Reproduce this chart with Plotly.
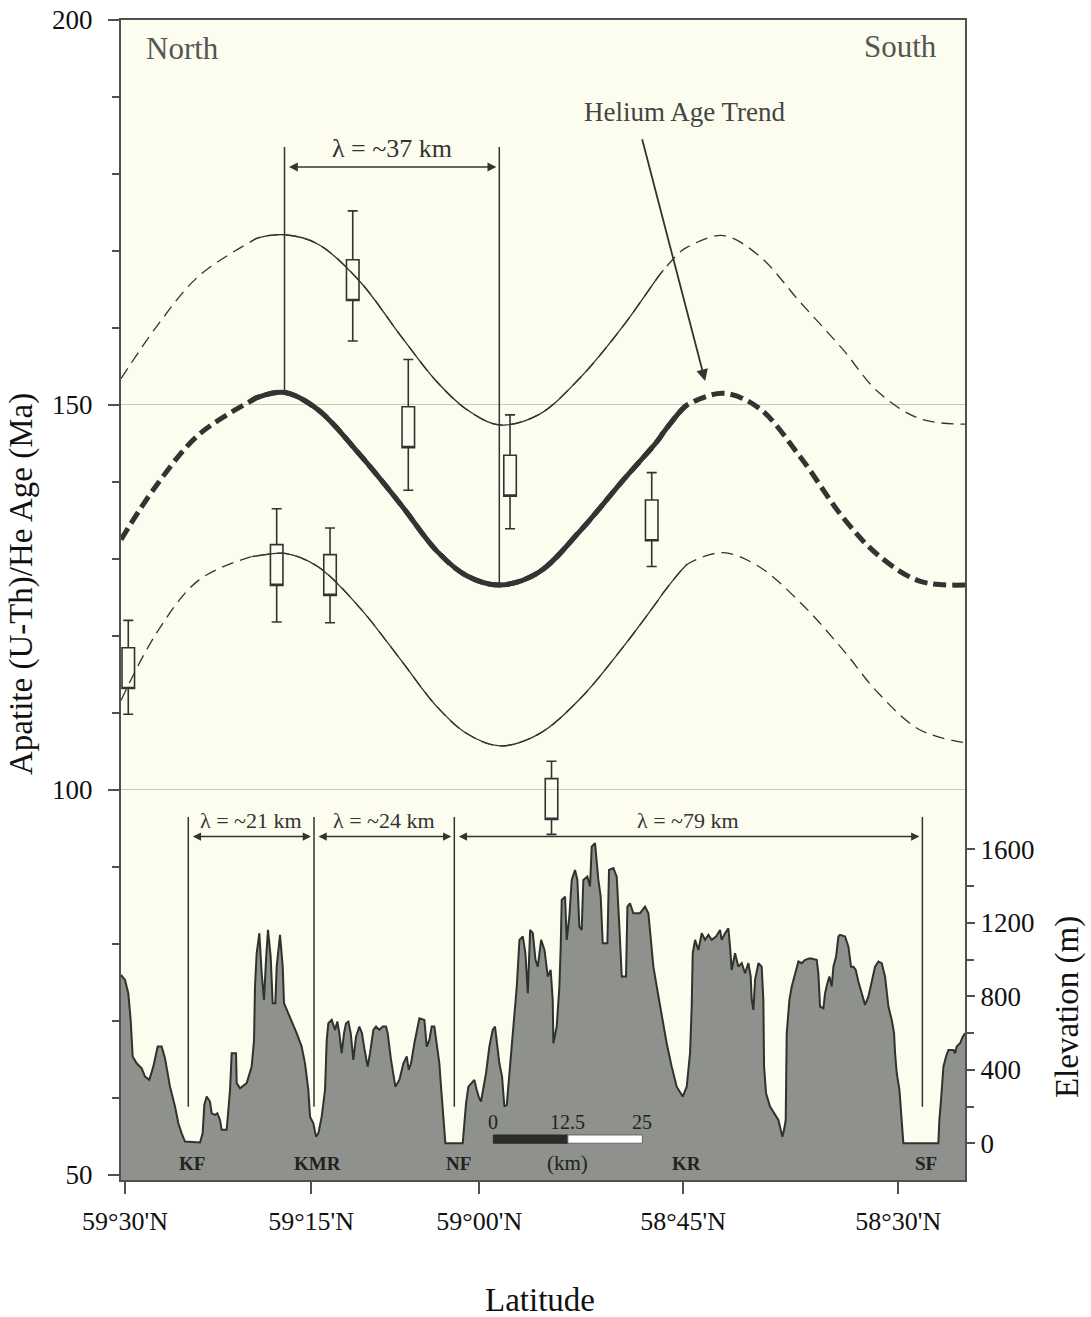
import plotly.graph_objects as go

# ---------------------------------------------------------------
# Topographic profile: distance along profile (km) and elevation (m)
# ---------------------------------------------------------------
PROFILE_KM = [
    0.0, 0.67, 1.23, 1.62, 1.96, 2.63, 3.47, 4.03, 4.75, 5.42, 6.15, 6.82, 7.38, 8.22, 9.06,
    9.62, 10.18, 10.74, 13.26, 13.70, 13.98, 14.37, 14.93, 15.21, 15.77, 16.16, 16.61, 16.89,
    17.73, 18.01, 18.29, 18.57, 19.30, 19.41, 19.97, 21.09, 21.92, 22.32, 22.48, 22.76, 23.21,
    23.60, 23.99, 24.33, 24.66, 25.11, 25.45, 25.89, 26.12, 26.68, 27.13, 27.35, 28.36, 29.47,
    30.31, 30.87, 31.43, 31.71, 32.27, 32.72, 33.11, 33.67, 34.23, 34.51, 34.79, 35.35, 35.91,
    36.30, 36.63, 37.02, 37.42, 37.75, 38.15, 38.54, 38.98, 39.43, 39.99, 40.43, 40.82, 41.38,
    41.78, 42.34, 42.79, 43.34, 43.90, 44.46, 44.74, 45.30, 46.03, 46.71, 47.38, 47.94, 48.27,
    48.66, 49.22, 49.78, 50.06, 50.90, 51.29, 51.74, 52.13, 52.57, 52.97, 53.41, 53.69, 54.08,
    54.42, 57.33, 57.61, 57.89, 58.28, 58.73, 59.28, 59.68, 60.01, 60.40, 60.79, 61.24, 61.80,
    62.36, 62.75, 63.09, 63.48, 63.93, 64.32, 64.72, 65.05, 65.44, 66.00, 66.40, 66.85, 67.41,
    67.85, 68.25, 68.64, 69.09, 69.54, 69.93, 70.49, 71.05, 71.61, 72.09, 72.43, 72.54, 73.10,
    73.55, 73.77, 73.94, 74.50, 74.78, 75.22, 75.62, 76.17, 76.57, 76.90, 77.29, 77.57, 78.24,
    78.69, 78.97, 79.53, 80.09, 80.48, 80.82, 81.60, 81.88, 82.61, 83.17, 83.61, 84.01, 84.73,
    84.96, 85.40, 85.96, 87.08, 87.92, 88.48, 88.76, 89.32, 89.88, 90.72, 91.55, 92.39, 93.23,
    94.24, 94.91, 95.47, 95.75, 95.92, 96.31, 96.87, 97.43, 97.99, 98.55, 99.11, 99.83, 100.50,
    100.78, 101.34, 101.90, 102.18, 102.46, 103.02, 103.58, 104.14, 104.70, 105.26, 105.65,
    105.82, 106.10, 106.38, 106.94, 107.49, 107.77, 107.89, 108.22, 108.89, 109.73, 110.29,
    110.68, 110.96, 111.24, 111.52, 111.69, 112.14, 112.53, 113.09, 113.65, 114.21, 114.77,
    115.60, 116.72, 117.00, 117.28, 117.84, 118.12, 118.51, 118.85, 119.24, 119.52, 119.97,
    120.36, 120.64, 121.48, 122.04, 122.48, 122.88, 123.27, 123.71, 124.27, 124.83, 125.39,
    125.95, 126.51, 127.07, 127.63, 128.19, 128.75, 129.31, 129.70, 129.87, 130.15, 130.60,
    130.99, 131.26, 137.13, 137.30, 137.58, 137.98, 138.42, 138.82, 139.66, 139.93, 140.21,
    140.77, 141.22, 141.6,
]
PROFILE_ELEV_M = [
    916, 889, 816, 671, 472, 435, 408, 363, 345, 417, 526, 526, 463, 308, 200,
    109, 54, 9, 4, 54, 209, 254, 227, 163, 154, 163, 127, 73,
    73, 172, 290, 490, 490, 327, 299, 327, 417, 562, 853, 1034, 1143,
    925, 780, 998, 1161, 1016, 762, 762, 961, 1134, 961, 762, 689, 599,
    526, 435, 290, 145, 109, 36, 54, 145, 290, 560, 653, 671, 617,
    662, 599, 490, 599, 653, 662, 599, 454, 580, 635, 599, 517, 417,
    490, 617, 635, 617, 635, 635, 599, 454, 308, 345, 435, 472, 399,
    435, 544, 635, 680, 671, 526, 562, 635, 635, 526, 435, 308, 127,
    0, 0, 127, 218, 308, 327, 345, 290, 254, 227, 308, 381, 526,
    617, 635, 544, 435, 363, 200, 209, 327, 490, 689, 853, 1107, 1125,
    1034, 816, 1161, 1143, 998, 961, 1107, 1052, 907, 943, 780, 544, 635,
    853, 1070, 1324, 1342, 1107, 1234, 1433, 1487, 1433, 1179, 1161, 1433, 1451,
    1397, 1614, 1633, 1433, 1342, 1088, 1088, 1487, 1497, 1451, 1179, 907, 907,
    1288, 1306, 1252, 1252, 1288, 1252, 1143, 961, 853, 689, 544, 417, 308,
    254, 308, 490, 744, 1034, 1107, 1052, 1143, 1107, 1134, 1107, 1125, 1161,
    1107, 1143, 1170, 1070, 943, 1034, 961, 980, 925, 980, 907,
    780, 726, 889, 980, 961, 780, 417, 272, 200, 154, 127,
    73, 36, 73, 127, 599, 780, 853, 925, 989, 980, 998,
    1007, 998, 925, 744, 735, 816, 871, 907, 853, 961, 1016,
    1125, 1134, 1125, 1070, 961, 961, 943, 880, 816, 753, 798,
    889, 961, 989, 980, 907, 744, 671, 599, 490, 381, 290,
    145, 0, 0, 127, 236, 417, 472, 508, 508, 490, 526,
    544, 580, 599,
]

# ---------------------------------------------------------------
# Helium age trend with upper / lower envelopes (Ma)
# ---------------------------------------------------------------
TREND_KM = [0, 6, 13, 22, 23, 27.5, 33, 40, 47, 53, 58, 63.5, 70, 77, 84, 90, 91, 94, 95,
            101, 107, 114, 121, 127, 134, 141.6]
TREND_MA = [132.5, 139.6, 146.1, 150.6, 151.0, 151.6, 149.4, 143.6, 137.0, 131.0, 127.8,
            126.6, 128.2, 133.6, 140.0, 145.3, 146.4, 149.3, 150.0, 151.5, 149.6, 143.2,
            135.5, 130.5, 127.1, 126.6]
UPPER_MA = [153.4, 160.2, 166.7, 171.3, 171.7, 172.1, 170.9, 166.1, 158.9, 153.0, 149.4,
            147.4, 148.7, 153.5, 160.0, 166.5, 167.5, 170.0, 170.5, 172.0, 169.4, 163.3,
            157.3, 151.7, 148.2, 147.5]
LOWER_MA = [111.6, 120.4, 127.2, 130.3, 130.4, 130.7, 129.0, 123.7, 116.8, 110.8, 107.3,
            105.7, 107.2, 111.8, 118.3, 124.5, 125.6, 128.5, 129.3, 130.8, 129.0, 124.3,
            118.3, 112.6, 107.8, 106.1]

# ---------------------------------------------------------------
# Apatite (U-Th)/He samples
# ---------------------------------------------------------------
SAMPLE_KM = [1.22, 26.12, 35.07, 38.88, 48.20, 65.27, 72.23, 89.04]
SAMPLE_AGE_MA = [115.8, 129.2, 127.9, 166.2, 147.1, 140.8, 98.8, 135.0]
SAMPLE_ERR_HIGH = [122.0, 136.5, 134.0, 175.2, 155.9, 148.7, 103.7, 141.2]
SAMPLE_ERR_LOW = [109.8, 121.8, 121.7, 158.3, 138.9, 133.9, 94.2, 129.0]

# ---------------------------------------------------------------
# Axes, ticks and annotations
# ---------------------------------------------------------------
LAT_TICK_KM = [0.67, 31.9, 60.1, 94.3, 130.4]
LAT_TICK_TEXT = ["59°30'N", "59°15'N", "59°00'N", "58°45'N", "58°30'N"]
AGE_TICKS = [50, 100, 150, 200]
ELEV_TICKS = [0, 400, 800, 1200, 1600]
ELEV_MINOR = [200, 600, 1000, 1400]

VALLEY_NAMES = ["KF", "KMR", "NF", "KR", "SF"]
VALLEY_KM = [11.86, 33.05, 56.54, 94.92, 135.07]

# topographic wavelength markers (km)
TOPO_MARK_KM = [11.29, 32.38, 55.92, 134.45]
TOPO_WAVE_TEXT = ["λ = ~21 km", "λ = ~24 km", "λ = ~79 km"]
# helium-age wavelength markers (km) and the trend values they hang from
AGE_MARK_KM = [27.43, 63.47]
AGE_MARK_MA = [151.6, 126.6]
AGE_WAVE_TEXT = "λ = ~37 km"

SCALE_START_KM = 62.47
SCALE_STEPS_KM = [0, 12.5, 25]

# ---------------------------------------------------------------
X_RANGE = [0, 141.6]
AGE_RANGE = [49.3, 200]
ELEV_RANGE = [-200, 6113]

FONT = "Liberation Serif"
INK = "#333333"
FRAME = "#505050"
THICK = 5
THIN = 1.3

fig = go.Figure()


def curve(xs, ys, width, dash, lo=None, hi=None):
    if lo is not None:
        pts = [(a, b) for a, b in zip(xs, ys) if lo <= a <= hi]
        xs, ys = [p[0] for p in pts], [p[1] for p in pts]
    fig.add_trace(go.Scatter(
        x=xs, y=ys, mode="lines", hoverinfo="skip",
        line=dict(color=INK, width=width, dash=dash, shape="spline", smoothing=1.0),
    ))


# dashed full-length curves, solid where constrained by the samples
curve(TREND_KM, UPPER_MA, THIN, "12px,7px")
curve(TREND_KM, LOWER_MA, THIN, "12px,7px")
curve(TREND_KM, TREND_MA, THICK, "13px,6px")
curve(TREND_KM, UPPER_MA, THIN, "solid", 22, 91)
curve(TREND_KM, LOWER_MA, THIN, "solid", 22, 95)
curve(TREND_KM, TREND_MA, THICK, "solid", 22, 95)

# sample boxes with error whiskers
BOX_HALF = 2.65
q1 = [a - BOX_HALF for a in SAMPLE_AGE_MA]
q3 = [a + BOX_HALF for a in SAMPLE_AGE_MA]
fig.add_trace(go.Box(
    x=SAMPLE_KM, q1=q1, median=q1, q3=q3,
    lowerfence=SAMPLE_ERR_LOW, upperfence=SAMPLE_ERR_HIGH,
    width=2.1, whiskerwidth=0.8, boxpoints=False,
    fillcolor="rgba(0,0,0,0)", line=dict(color=INK, width=1.6),
    hoverinfo="skip",
))

# topographic profile filled down to the axis floor
fig.add_trace(go.Scatter(
    x=[PROFILE_KM[0], PROFILE_KM[-1]], y=[ELEV_RANGE[0], ELEV_RANGE[0]],
    yaxis="y2", mode="lines", line=dict(width=0, color="rgba(0,0,0,0)"),
    hoverinfo="skip",
))
fig.add_trace(go.Scatter(
    x=PROFILE_KM, y=PROFILE_ELEV_M, yaxis="y2", mode="lines",
    line=dict(color="#2e332e", width=2), fill="tonexty", fillcolor="#8e918c",
    hoverinfo="skip",
))

shapes = []
annotations = []

# helium-age wavelength bracket
for km, ma in zip(AGE_MARK_KM, AGE_MARK_MA):
    shapes.append(dict(type="line", xref="x", yref="y", x0=km, x1=km, y0=ma, y1=183.5,
                       line=dict(color=INK, width=1.5)))
annotations.append(dict(xref="x", yref="y", x=AGE_MARK_KM[1], y=180.9,
                        ax=AGE_MARK_KM[0], ay=180.9, axref="x", ayref="y",
                        text="", showarrow=True, arrowside="end+start", arrowhead=2,
                        arrowsize=1.1, arrowwidth=1.6, arrowcolor=INK,
                        standoff=3, startstandoff=3))
annotations.append(dict(xref="x", yref="y", x=sum(AGE_MARK_KM) / 2, y=183.3,
                        text=AGE_WAVE_TEXT, showarrow=False,
                        font=dict(family=FONT, size=26, color=INK)))

# topographic wavelength brackets
for km in TOPO_MARK_KM:
    shapes.append(dict(type="line", xref="x", yref="y2", x0=km, x1=km, y0=199, y1=1776,
                       line=dict(color=INK, width=1.5)))
for (a, b), txt in zip(zip(TOPO_MARK_KM[:-1], TOPO_MARK_KM[1:]), TOPO_WAVE_TEXT):
    annotations.append(dict(xref="x", yref="y2", x=b, y=1669, ax=a, ay=1669,
                            axref="x", ayref="y2", text="", showarrow=True,
                            arrowside="end+start", arrowhead=2, arrowsize=1.1,
                            arrowwidth=1.5, arrowcolor=INK, standoff=3, startstandoff=3))
    annotations.append(dict(xref="x", yref="y2", x=(a + b) / 2, y=1759, text=txt,
                            showarrow=False, font=dict(family=FONT, size=22, color=INK)))

# valley labels
for name, km in zip(VALLEY_NAMES, VALLEY_KM):
    annotations.append(dict(xref="x", yref="y2", x=km, y=-109, text=f"<b>{name}</b>",
                            showarrow=False, font=dict(family=FONT, size=19, color="#222")))

# scale bar
s0, s1, s2 = [SCALE_START_KM + d for d in SCALE_STEPS_KM]
shapes.append(dict(type="rect", xref="x", yref="y2", x0=s0, x1=s1, y0=0, y1=45,
                   fillcolor="#2b2b2b", line=dict(color="#2b2b2b", width=1)))
shapes.append(dict(type="rect", xref="x", yref="y2", x0=s1, x1=s2, y0=0, y1=45,
                   fillcolor="#ffffff", line=dict(color="#666666", width=1)))
for d in SCALE_STEPS_KM:
    annotations.append(dict(xref="x", yref="y2", x=SCALE_START_KM + d, y=118,
                            text=f"{d:g}", showarrow=False,
                            font=dict(family=FONT, size=20, color="#222")))
annotations.append(dict(xref="x", yref="y2", x=s1, y=-109, text="(km)", showarrow=False,
                        font=dict(family=FONT, size=21, color="#222")))

# direction labels and trend pointer
annotations.append(dict(xref="x", yref="y", x=10.4, y=196.3, text="North", showarrow=False,
                        font=dict(family=FONT, size=31, color="#555")))
annotations.append(dict(xref="x", yref="y", x=130.7, y=196.5, text="South", showarrow=False,
                        font=dict(family=FONT, size=31, color="#555")))
annotations.append(dict(xref="x", yref="y", x=94.6, y=188.0, text="Helium Age Trend",
                        showarrow=False, font=dict(family=FONT, size=27, color="#444")))
annotations.append(dict(xref="x", yref="y", x=98.0, y=153.1, ax=87.37, ay=184.7,
                        axref="x", ayref="y", text="", showarrow=True, arrowhead=2,
                        arrowsize=1.3, arrowwidth=1.8, arrowcolor=INK))

# axis titles
annotations.append(dict(xref="paper", yref="paper", x=-0.1173, y=0.5138,
                        text="Apatite (U-Th)/He Age (Ma)", textangle=-90, showarrow=False,
                        xanchor="center", yanchor="middle",
                        font=dict(family=FONT, size=33, color="#111")))
annotations.append(dict(xref="paper", yref="paper", x=1.1209, y=0.1491,
                        text="Elevation (m)", textangle=-90, showarrow=False,
                        xanchor="center", yanchor="middle",
                        font=dict(family=FONT, size=33, color="#111")))
annotations.append(dict(xref="paper", yref="paper", x=0.4964, y=-0.1034,
                        text="Latitude", showarrow=False, xanchor="center", yanchor="middle",
                        font=dict(family=FONT, size=33, color="#111")))

fig.update_layout(
    width=1091, height=1317,
    margin=dict(l=121, r=126, t=20, b=137, autoexpand=False),
    paper_bgcolor="white", plot_bgcolor="#fcfcef",
    showlegend=False,
    font=dict(family=FONT, color="#111"),
    shapes=shapes, annotations=annotations,
    xaxis=dict(
        range=X_RANGE, tickmode="array", tickvals=LAT_TICK_KM, ticktext=LAT_TICK_TEXT,
        ticks="outside", ticklen=12, tickwidth=2, tickcolor=FRAME,
        showline=True, linecolor=FRAME, linewidth=2, mirror=True,
        showgrid=False, zeroline=False, ticklabelstandoff=5, automargin=False,
        tickfont=dict(family=FONT, size=26, color="#111"),
    ),
    yaxis=dict(
        range=AGE_RANGE, tickmode="array", tickvals=AGE_TICKS,
        ticks="outside", ticklen=11, tickwidth=2, tickcolor=FRAME,
        showline=True, linecolor=FRAME, linewidth=2, mirror=True,
        showgrid=True, gridcolor="#c9c9b9", gridwidth=1, zeroline=False,
        minor=dict(tickmode="linear", tick0=50, dtick=10, ticks="outside", ticklen=7,
                   tickwidth=2, tickcolor=FRAME, showgrid=False),
        ticklabelstandoff=10, automargin=False,
        tickfont=dict(family=FONT, size=27, color="#111"),
    ),
    yaxis2=dict(
        range=ELEV_RANGE, overlaying="y", side="right", tickmode="array",
        tickvals=ELEV_TICKS, ticks="outside", ticklen=8, tickwidth=2, tickcolor=FRAME,
        showline=True, linecolor=FRAME, linewidth=2, showgrid=False, zeroline=False,
        minor=dict(tickmode="array", tickvals=ELEV_MINOR, ticks="outside", ticklen=7,
                   tickwidth=2, tickcolor=FRAME, showgrid=False),
        ticklabelstandoff=0, automargin=False,
        tickfont=dict(family=FONT, size=27, color="#111"),
    ),
)

fig.write_html("out.html")
